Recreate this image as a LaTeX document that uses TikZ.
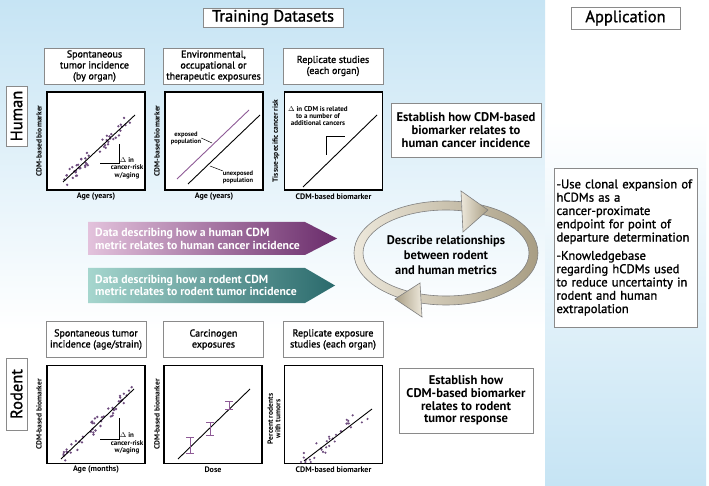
\documentclass[tikz,border=0pt]{standalone}
\usepackage{fontspec}
\setmainfont{PT Sans}
\newfontfamily\semib{PT Sans}[FakeBold=1.2]
\usetikzlibrary{calc}
\definecolor{bgblue}{HTML}{C6E4F4}
\definecolor{boxgray}{HTML}{8A8A8A}
\definecolor{dotpurple}{HTML}{6E4C7E}
\definecolor{linepurple}{HTML}{8E5A96}
\definecolor{purpL}{HTML}{E3C2DC}
\definecolor{purpR}{HTML}{6A2C6B}
\definecolor{tealL}{HTML}{A6D6CE}
\definecolor{tealR}{HTML}{2A6A6C}
\definecolor{ringL}{HTML}{EDE8DB}
\definecolor{ringD}{HTML}{A89D83}
\begin{document}
\begin{tikzpicture}[x=1pt,y=-1pt,
 gbox/.style={draw=boxgray, line width=0.8pt, fill=white, align=center, inner sep=0pt},
 ttl/.style={gbox, font=\semib\fontsize{16.5}{18}\selectfont},
 hdr/.style={gbox, minimum width=100pt, minimum height=36pt, font=\semib\fontsize{10}{11}\selectfont},
 plotbox/.style={draw=black, line width=1.2pt, fill=white, minimum width=98pt, minimum height=98pt, inner sep=0pt},
 axlab/.style={font=\bfseries\fontsize{8}{8.5}\selectfont, align=center, inner sep=0pt},
 aylab/.style={font=\bfseries\fontsize{7.5}{7.5}\selectfont, align=center, inner sep=0pt, rotate=90},
 note/.style={font=\bfseries\fontsize{7}{7.3}\selectfont, align=center, inner sep=0pt},
 smallnote/.style={font=\bfseries\fontsize{6.5}{7}\selectfont, align=center, inner sep=0pt},
 fitline/.style={line width=0.9pt},
 dot/.style={fill=dotpurple},
 errbar/.style={draw=linepurple, line width=0.9pt},
 est/.style={gbox, font=\bfseries\fontsize{12.6}{12.6}\selectfont},
 arrtext/.style={text=white, font=\bfseries\fontsize{11.7}{12.8}\selectfont, align=left, anchor=west, inner sep=0pt},
 side/.style={gbox, font=\semib\fontsize{16.5}{17}\selectfont, rotate=90, minimum width=60pt, minimum height=21pt}
]
\useasboundingbox (0,0) rectangle (709,486);
\fill[white] (0,0) rectangle (709,486);
\shade[top color=bgblue, bottom color=white] (0,0) rectangle (545,330);
\shade[top color=white, bottom color=bgblue] (545,120) rectangle (706,485);

% titles
\node[ttl, minimum width=140pt, minimum height=19pt] (train) at (273,17.5) {Training Datasets};
\node[ttl, minimum width=109pt, minimum height=22pt] (app) at (625.5,18) {Application};

% side labels
\node[side] (human) at (16.5,116) {Human};
\node[side, minimum width=72pt] (rodent) at (16.5,394) {Rodent};

% human headers
\node[hdr] (h1t) at (94.5,66) {Spontaneous\\tumor incidence\\(by organ)};
\node[hdr] (h2t) at (213.5,66) {Environmental,\\occupational or\\therapeutic exposures};
\node[hdr] (h3t) at (333,66) {Replicate studies\\(each organ)};

% human plots
\node[plotbox] (h1) at (96,141) {};
\node[plotbox] (h2) at (214,141) {};
\node[plotbox] (h3) at (333.5,141) {};
\node[axlab] (h1x) at (96,197) {Age (years)};
\node[axlab] (h2x) at (214,197) {Age (years)};
\node[axlab] (h3x) at (333.5,197) {CDM-based biomarker};
\node[aylab] (h1y) at (39,141) {CDM-based biomarker};
\node[aylab] (h2y) at (157,141) {CDM-based biomarker};
\node[aylab] (h3y) at (276,141) {Tissue-specific cancer risk};

% plot h1
\pgfmathsetseed{11}
\foreach \i in {1,...,48}{
  \pgfmathsetmacro\sx{64+rnd*70}
  \pgfmathsetmacro\sy{min(187,max(97,182-(\sx-63)*0.93+rand*8))}
  \fill[dot] (\sx,\sy) circle (1.3pt);
}
\draw[fitline] (63,182) -- (135,115);
\draw[line width=0.8pt] (119,144) -- (119,163) -- (100,163);
\node[note] (h1d) at (127,168) {$\Delta$ in\\cancer-risk\\w/aging};

% plot h2
\draw[line width=0.9pt, linepurple] (177,179) -- (249,110);
\draw[fitline] (188,184) -- (260,115);
\node[smallnote] (expo) at (186,138) {exposed\\population};
\coordinate (expoEnd) at (212,143);
\draw[line width=0.5pt] (expo.east) -- (expoEnd);
\node[smallnote] (unexpo) at (238,177.5) {unexposed\\population};
\coordinate (unexpoEnd) at (210,166);
\draw[line width=0.5pt] (unexpo.north west) -- (unexpoEnd);

% plot h3
\draw[fitline] (303,187) -- (377,115);
\node[note] (h3n) at (318,116) {$\Delta$ in CDM is related\\to a number of\\additional cancers};
\draw[line width=0.9pt] (326,155) -- (326,136) -- (345,136);

% human establish
\node[est, minimum width=150pt, minimum height=54pt] (hest) at (466,130) {Establish how CDM-based\\biomarker relates to\\human cancer incidence};

% data arrows
\shade[left color=purpL, right color=purpR] (88,222) -- (305,222) -- (337,238.5) -- (305,255) -- (88,255) -- cycle;
\node[arrtext] (hdata) at (95,239) {Data describing how a human CDM\\metric relates to human cancer incidence};
\shade[left color=tealL, right color=tealR] (88,268) -- (305,268) -- (335,285.5) -- (305,303) -- (88,303) -- cycle;
\node[arrtext] (rdata) at (95,285.5) {Data describing how a rodent CDM\\metric relates to rodent tumor incidence};

% cycle
\path[draw=gray, line width=0.6pt, left color=ringL, right color=ringD, even odd rule]
  (446,253) ellipse [x radius=92pt, y radius=52pt]
  (446,253) ellipse [x radius=83pt, y radius=43pt];
\path[draw=gray, line width=0.6pt, left color=ringL, right color=ringD] (461,191) -- (488,210) -- (463,232) -- cycle;
\path[draw=gray, line width=0.6pt, left color=ringD, right color=ringL] (420,283) -- (395,299) -- (422,317) -- cycle;
\node[font=\bfseries\fontsize{12.5}{15}\selectfont, align=center] (cyctext) at (446,255) {Describe relationships\\between rodent\\and human metrics};

% application
\node[gbox, minimum height=159pt, text width=142pt, inner xsep=0.5pt, align=left, font=\semib\fontsize{12.6}{13.3}\selectfont] (appbox) at (625.5,247.5)
 {\hspace*{2pt}-Use clonal expansion of\\\hspace*{2pt}hCDMs as a\\\hspace*{2pt}cancer-proximate\\\hspace*{2pt}endpoint for point of\\\hspace*{2pt}departure determination\\[5pt]\hspace*{2pt}-Knowledgebase\\\hspace*{2pt}regarding hCDMs used\\\hspace*{2pt}to reduce uncertainty in\\\hspace*{2pt}rodent and human\\\hspace*{2pt}extrapolation};

% rodent headers
\node[hdr] (r1t) at (96,339.5) {Spontaneous tumor\\incidence (age/strain)};
\node[hdr] (r2t) at (213.5,339.5) {Carcinogen\\exposures};
\node[hdr] (r3t) at (333,339.5) {Replicate exposure\\studies (each organ)};

% rodent plots
\node[plotbox] (r1) at (96,414.5) {};
\node[plotbox] (r2) at (213,414.5) {};
\node[plotbox] (r3) at (333.5,414.5) {};
\node[axlab] (r1x) at (96,470) {Age (months)};
\node[axlab] (r2x) at (213,470) {Dose};
\node[axlab] (r3x) at (333.5,470) {CDM-based biomarker};
\node[aylab] (r1y) at (39,414.5) {CDM-based biomarker};
\node[aylab] (r2y) at (157,414.5) {CDM-based biomarker};
\node[aylab] (r3y) at (274,419) {Percent rodents\\with tumors};

% plot r1
\pgfmathsetseed{23}
\foreach \i in {1,...,48}{
  \pgfmathsetmacro\sx{63+rnd*70}
  \pgfmathsetmacro\sy{min(461,max(370,459-(\sx-61)*0.959+rand*8))}
  \fill[dot] (\sx,\sy) circle (1.3pt);
}
\draw[fitline] (61,459) -- (134,389);
\draw[line width=0.8pt] (119,418) -- (119,439) -- (100,439);
\node[note] (r1d) at (127,443.5) {$\Delta$ in\\cancer-risk\\w/aging};

% plot r2
\draw[fitline] (178,459) -- (250,389);
\draw[errbar] (186,437) -- (194,437) (190,437) -- (190,453) (186,453) -- (194,453);
\draw[errbar] (206,422) -- (214,422) (210,422) -- (210,435) (206,435) -- (214,435);
\draw[errbar] (225,401) -- (233,401) (229,401) -- (229,409) (225,409) -- (233,409);

% plot r3
\pgfmathsetseed{5}
\foreach \i in {1,...,32}{
  \pgfmathsetmacro\sx{300+rnd*68}
  \pgfmathsetmacro\sy{min(462,max(370,461-(\sx-304)*0.765+rand*9))}
  \fill[dot] (\sx,\sy) circle (1.2pt);
}
\draw[fitline] (304,461) -- (372,409);

% rodent establish
\node[est, minimum width=134pt, minimum height=65pt] (rest) at (466,400.5) {Establish how\\CDM-based biomarker\\relates to rodent\\tumor response};
\end{tikzpicture}
\end{document}
